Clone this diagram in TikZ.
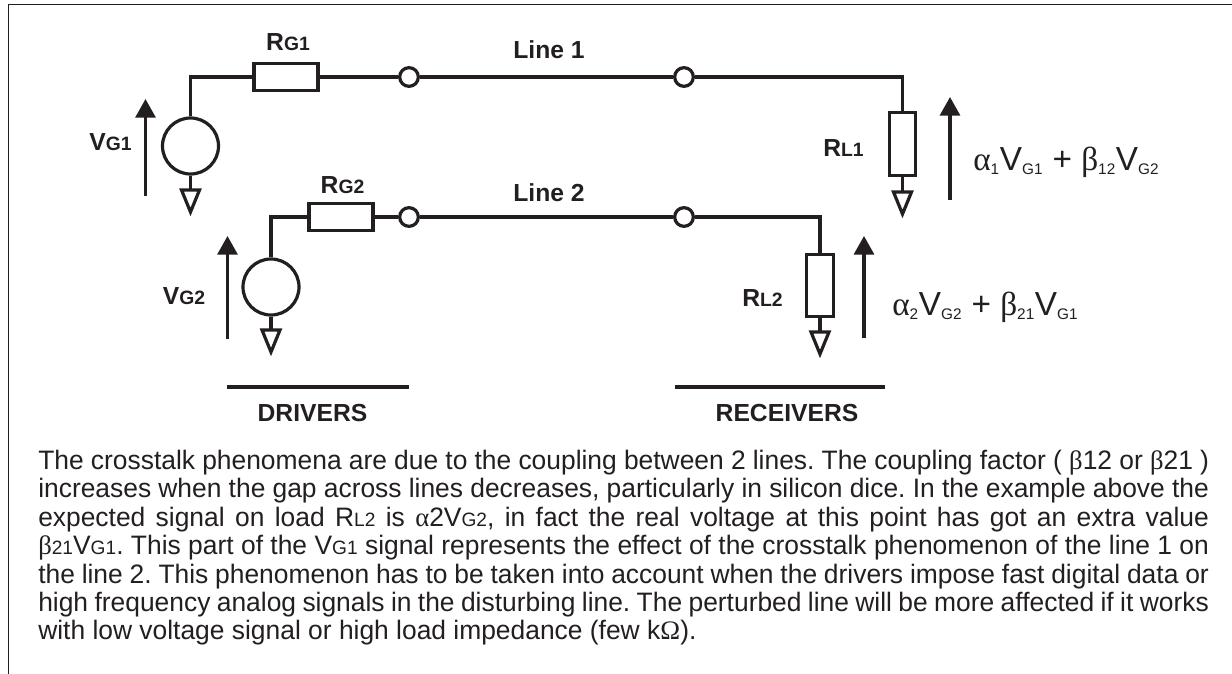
\documentclass[tikz,border=0pt]{standalone}
\usepackage{fontspec}
\setmainfont{Liberation Sans}
\newfontfamily\greekfont{Liberation Serif}
\newfontfamily\bodyfont[FakeStretch=0.99]{Liberation Sans}
\usetikzlibrary{positioning,arrows.meta}
\definecolor{inkgray}{HTML}{231F20}
\newcommand{\sm}[1]{{\fontsize{14.5}{14.5}\selectfont #1}}
\newcommand{\low}[1]{\textsubscript{\fontsize{11.5}{11.5}\selectfont #1}}
\newcommand{\gr}[1]{{\greekfont #1}}
\tikzset{
	wire/.style={inkgray,line width=2.4pt},
	res/.style={draw=inkgray,line width=2.4pt,fill=white,minimum width=48pt,minimum height=20pt,inner sep=0pt},
	resv/.style={draw=inkgray,line width=2.4pt,fill=white,minimum width=20pt,minimum height=47pt,inner sep=0pt},
	source/.style={circle,draw=inkgray,line width=2.4pt,fill=white,minimum size=42pt,inner sep=0pt},
	terminal/.style={circle,draw=inkgray,line width=2.4pt,fill=white,minimum size=14pt,inner sep=0pt},
	volt/.style={inkgray,line width=2.4pt,-{Triangle[length=14pt,width=15pt]}},
	label/.style={inkgray,font=\bfseries\fontsize{18.5}{18.5}\selectfont,inner sep=0pt},
	formula/.style={inkgray,font=\fontsize{25}{25}\selectfont,inner sep=0pt,anchor=base west}
}
\newcommand{\ground}[2]{% name, top point
	\coordinate (#1) at (#2);
	\draw[wire,line join=miter] (#1) ++(-9,0) -- ++(18,0) -- ++(-9,22) -- cycle;
}
\begin{document}
\begin{tikzpicture}[x=0.75pt,y=-0.75pt]
	\useasboundingbox (0,0) rectangle (1232,674);
	% frame
	\draw[inkgray,line width=1.4pt] (8.5,674) -- (8.5,4.5) -- (1232,4.5);

	% line 1
	\node[source] (src1) at (190.5,146) {};
	\node[res] (rg1) at (286,77) {};
	\node[terminal] (t11) at (409,77) {};
	\node[terminal] (t12) at (684,77) {};
	\node[resv] (rl1) at (902.5,144) {};
	\draw[wire] (src1.north) |- (rg1.west);
	\draw[wire] (rg1.east) -- (t11.west);
	\draw[wire] (t11.east) -- (t12.west);
	\draw[wire] (t12.east) -| (rl1.north);
	\ground{gs1}{190.5,190}
	\ground{gl1}{902.5,192}
	\draw[wire] (src1.south) -- (gs1);
	\draw[wire] (rl1.south) -- (gl1);

	% line 2
	\node[source] (src2) at (271,287) {};
	\node[res] (rg2) at (341,217) {};
	\node[terminal] (t21) at (409,217) {};
	\node[terminal] (t22) at (684,217) {};
	\node[resv] (rl2) at (820,285.5) {};
	\draw[wire] (src2.north) |- (rg2.west);
	\draw[wire] (rg2.east) -- (t21.west);
	\draw[wire] (t21.east) -- (t22.west);
	\draw[wire] (t22.east) -| (rl2.north);
	\ground{gs2}{271,330}
	\ground{gl2}{820,332}
	\draw[wire] (src2.south) -- (gs2);
	\draw[wire] (rl2.south) -- (gl2);

	% voltage arrows
	\coordinate (a1s) at (145.5,196); \coordinate (a1e) at (145.5,99);
	\coordinate (a2s) at (227.5,339); \coordinate (a2e) at (227.5,236);
	\coordinate (a3s) at (950,200); \coordinate (a3e) at (950,97);
	\coordinate (a4s) at (864,338); \coordinate (a4e) at (864,236);
	\draw[volt] (a1s) -- (a1e);
	\draw[volt] (a2s) -- (a2e);
	\draw[volt] (a3s) -- (a3e);
	\draw[volt] (a4s) -- (a4e);

	% labels
	\node[label] (lrg1) at (288,42.5) {R\sm{G1}};
	\node[label] (lrg2) at (342.5,185) {R\sm{G2}};
	\node[label] (lvg1) at (110.5,142) {V\sm{G1}};
	\node[label] (lvg2) at (184,296) {V\sm{G2}};
	\node[label] (lrl1) at (843.5,148) {R\sm{L1}};
	\node[label] (lrl2) at (762.5,298) {R\sm{L2}};
	\node[label] (line1) at (549,50) {Line 1};
	\node[label] (line2) at (549,192.5) {Line 2};
	\node[formula] (f1) at (973,170) {\gr{α}\low{1}V\low{G1} + \gr{β}\low{12}V\low{G2}};
	\node[formula] (f2) at (892,315) {\gr{α}\low{2}V\low{G2} + \gr{β}\low{21}V\low{G1}};

	% groups
	\coordinate (d1) at (227,387); \coordinate (d2) at (409,387);
	\coordinate (r1) at (675,387); \coordinate (r2) at (885,387);
	\draw[wire] (d1) -- (d2);
	\draw[wire] (r1) -- (r2);
	\node[label] (drv) at (312.5,413) {DRIVERS};
	\node[label] (rcv) at (787,413) {RECEIVERS};

	% text
	\node[inkgray,anchor=north west,inner sep=0pt,text width=878pt,align=justify,
		font=\bodyfont\frenchspacing\fontsize{20}{21.3}\selectfont] (body) at (38,450)
	{The crosstalk phenomena are due to the coupling between 2 lines. The coupling factor ( \gr{β}12 or \gr{β}21 )\linebreak
	increases when the gap across lines decreases, particularly in silicon dice. In the example above the\linebreak
	expected signal on load R\sm{L2} is \gr{α}2V\sm{G2}, in fact the real voltage at this point has got an extra value\linebreak
	\gr{β}\sm{21}V\sm{G1}. This part of the V\sm{G1} signal represents the effect of the crosstalk phenomenon of the line 1 on\linebreak
	the line 2. This phenomenon has to be taken into account when the drivers impose fast digital data or\linebreak
	high frequency analog signals in the disturbing line. The perturbed line will be more affected if it works\linebreak
	with low voltage signal or high load impedance (few k\gr{Ω}).};
\end{tikzpicture}
\end{document}
